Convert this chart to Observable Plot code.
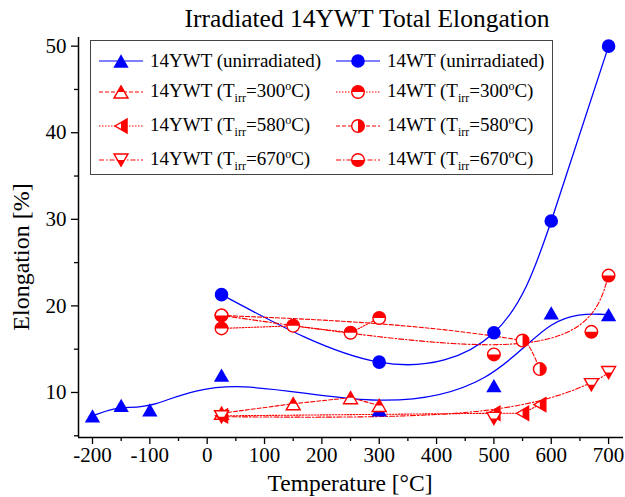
<!DOCTYPE html>
<html><head><meta charset="utf-8">
<script src="https://cdn.jsdelivr.net/npm/d3@7"></script>
<script src="https://cdn.jsdelivr.net/npm/@observablehq/plot@0.6"></script>
<style>
body{margin:0;background:#fff;}
#wrap{position:relative;width:625px;height:497px;font-family:"Liberation Serif","Times New Roman",Times,serif;color:#000;}
#wrap svg text{font-family:"Liberation Serif","Times New Roman",Times,serif !important;}
.ov{position:absolute;white-space:nowrap;line-height:1;}
#legend{position:absolute;left:90px;top:40px;width:461px;height:133px;border:1.5px solid #444;background:#fff;}
.le{position:absolute;display:flex;align-items:center;font-size:19px;height:24px;}
.le svg{margin-right:7px;}
sub{font-size:12px;vertical-align:-5px;}
sup{font-size:12px;vertical-align:7px;}
</style></head>
<body><div id="wrap"></div>
<script>
// ---------- data ----------
const ywtUnirrT = [-200, -150, -100, 25, 300, 500, 600, 700];
const ywtUnirr  = [7.3, 8.5, 8.0, 12.0, 8.0, 10.8, 19.2, 19.0];
const wtUnirrT  = [25, 300, 500, 600, 700];
const wtUnirr   = [21.3, 13.5, 16.9, 29.8, 50.0];
const ywt300T = [25, 150, 250, 300];
const ywt300  = [7.6, 8.7, 9.4, 8.5];
const ywt580T = [25, 500, 550, 580];
const ywt580  = [7.3, 7.6, 7.6, 8.6];
const ywt670T = [25, 500, 670, 700];
const ywt670  = [7.2, 7.0, 10.9, 12.3];
const wt300T = [25, 150, 250, 300];
const wt300  = [17.4, 17.7, 16.9, 18.6];
const wt580T = [25, 550, 580];
const wt580  = [18.9, 16.0, 12.7];
const wt670T = [25, 500, 670, 700];
const wt670  = [18.9, 14.4, 17.0, 23.5];
const xMajor = [-200, -100, 0, 100, 200, 300, 400, 500, 600, 700];
const xMinor = [-150, -50, 50, 150, 250, 350, 450, 550, 650];
const yMajor = [10, 20, 30, 40, 50];
const yMinor = [5, 15, 25, 35, 45];

const RED = "#ff0000", BLUE = "#0000ff";
const rows = (xs, ys) => xs.map((x, i) => ({x, y: ys[i]}));

// ---------- symbols ----------
const rr = s => Math.sqrt(s / Math.PI);
const triR = s => rr(s) * 1.3;
const triUp = {draw(c, s){const R = triR(s); c.moveTo(0,-0.75*R); c.lineTo(0.866*R,0.75*R); c.lineTo(-0.866*R,0.75*R); c.closePath();}};
const triUpTop = {draw(c, s){const R = triR(s); c.moveTo(0,-0.75*R); c.lineTo(0.433*R,0); c.lineTo(-0.433*R,0); c.closePath();}};
const triDown = {draw(c, s){const R = triR(s); c.moveTo(0,0.75*R); c.lineTo(0.866*R,-0.75*R); c.lineTo(-0.866*R,-0.75*R); c.closePath();}};
const triDownBot = {draw(c, s){const R = triR(s); c.moveTo(0,0.75*R); c.lineTo(0.433*R,0); c.lineTo(-0.433*R,0); c.closePath();}};
const triLeft = {draw(c, s){const R = triR(s); c.moveTo(-0.75*R,0); c.lineTo(0.75*R,-0.866*R); c.lineTo(0.75*R,0.866*R); c.closePath();}};
const triLeftRight = {draw(c, s){const R = triR(s); c.moveTo(0,-0.433*R); c.lineTo(0.75*R,-0.866*R); c.lineTo(0.75*R,0.866*R); c.lineTo(0,0.433*R); c.closePath();}};
const circ = {draw(c, s){const r = rr(s); c.moveTo(r,0); c.arc(0,0,r,0,2*Math.PI); c.closePath();}};
const circTop = {draw(c, s){const r = rr(s); c.moveTo(-r,0); c.arc(0,0,r,Math.PI,2*Math.PI); c.closePath();}};
const circBot = {draw(c, s){const r = rr(s); c.moveTo(r,0); c.arc(0,0,r,0,Math.PI); c.closePath();}};
const circRight = {draw(c, s){const r = rr(s); c.moveTo(0,-r); c.arc(0,0,r,-Math.PI/2,Math.PI/2); c.closePath();}};

const RB = 6.8, RC = 6.3, RT = 6.2;
function halfDots(data, full, half, r){
  return [
    Plot.dot(data, {x:"x", y:"y", symbol: full, r, fill:"white", stroke: RED, strokeWidth: 1.4}),
    Plot.dot(data, {x:"x", y:"y", symbol: half, r, fill: RED, stroke: "none"})
  ];
}

const series = [
  {data: rows(ywtUnirrT, ywtUnirr), color: BLUE, curve:"basis", dash:null, w:1.3},
  {data: rows(wtUnirrT, wtUnirr), color: BLUE, curve:"natural", dash:null, w:1.3},
  {data: rows(ywt300T, ywt300), color: RED, curve:"linear", dash:"4,2", w:1.1},
  {data: rows(ywt580T, ywt580), color: RED, curve:"linear", dash:"1.5,1.5", w:1.1},
  {data: rows(ywt670T, ywt670), color: RED, curve:"basis", dash:"5,2,1.5,2", w:1.1},
  {data: rows(wt300T, wt300), color: RED, curve:"linear", dash:"1.5,1.5", w:1.1},
  {data: rows(wt580T, wt580), color: RED, curve:"monotone-x", dash:"4,2", w:1.1},
  {data: rows(wt670T, wt670), color: RED, curve:"basis", dash:"5,2,1.5,2", w:1.1},
];

const chart = Plot.plot({
  width: 625, height: 497,
  marginLeft: 78, marginRight: 2, marginTop: 37, marginBottom: 60,
  x: {domain: [-224.4, 726]},
  y: {domain: [4.8, 51]},
  style: {fontFamily: '"Liberation Serif", "Times New Roman", serif', fontSize: "20px", color: "#000", background: "white"},
  marks: [
    Plot.axisX(xMinor, {tickSize: 4, tickFormat: () => "", label: null, strokeWidth: 1.3}),
    Plot.axisX(xMajor, {tickSize: 7, tickPadding: 3, tickFormat: d => String(d), label: null, fontSize: 21, strokeWidth: 1.3}),
    Plot.axisY(yMinor, {tickSize: 4, tickFormat: () => "", label: null, strokeWidth: 1.3}),
    Plot.axisY(yMajor, {tickSize: 7, tickPadding: 5, tickFormat: d => String(d), label: null, fontSize: 21, strokeWidth: 1.3}),
    Plot.ruleY([4.8], {stroke: "black", strokeWidth: 1.5}),
    Plot.ruleX([-224.4], {y1: 4.8, y2: 51, stroke: "black", strokeWidth: 1.5}),
    ...series.map(s => Plot.line(s.data, {x:"x", y:"y", curve: s.curve, stroke: s.color, strokeWidth: s.w, strokeDasharray: s.dash})),
    Plot.dot(rows(ywtUnirrT, ywtUnirr), {x:"x", y:"y", symbol: triUp, r: RB, fill: BLUE, stroke: "none"}),
    Plot.dot(rows(wtUnirrT, wtUnirr), {x:"x", y:"y", symbol: circ, r: RB, fill: BLUE, stroke: "none"}),
    ...halfDots(rows(ywt300T, ywt300), triUp, triUpTop, RT),
    ...halfDots(rows(ywt580T, ywt580), triLeft, triLeftRight, RT),
    ...halfDots(rows(ywt670T, ywt670), triDown, triDownBot, RT),
    ...halfDots(rows(wt300T, wt300), circ, circTop, RC),
    ...halfDots(rows(wt580T, wt580), circ, circRight, RC),
    ...halfDots(rows(wt670T, wt670), circ, circBot, RC),
  ]
});
const wrap = document.getElementById("wrap");
wrap.appendChild(chart);

function addText(html, css){
  const d = document.createElement("div"); d.className = "ov"; d.innerHTML = html; Object.assign(d.style, css); wrap.appendChild(d); return d;
}
addText("Irradiated 14YWT Total Elongation", {left:"167px", width:"400px", textAlign:"center", top:"6px", fontSize:"25.5px"});
addText("Temperature [°C]", {left:"200px", width:"300px", textAlign:"center", top:"472px", fontSize:"23.5px"});
addText("Elongation [%]", {left:"-64px", width:"170px", top:"245px", textAlign:"center", fontSize:"24px", transform:"rotate(-90deg)", transformOrigin:"center"});

// ---------- legend ----------
const legend = document.createElement("div"); legend.id = "legend"; wrap.appendChild(legend);
const sz = r => r*r*Math.PI;
function sample(color, dash, full, half, r, filled){
  const fp = d3.symbol(full, sz(r))();
  let s = `<svg width="44" height="22" viewBox="0 0 44 22"><line x1="0" y1="11" x2="44" y2="11" stroke="${color}" stroke-width="1.2" ${dash ? `stroke-dasharray="${dash}"` : ""}/>`;
  if (filled) s += `<path transform="translate(22,11)" d="${fp}" fill="${color}"/>`;
  else {
    s += `<path transform="translate(22,11)" d="${fp}" fill="white" stroke="${RED}" stroke-width="1.4"/>`;
    s += `<path transform="translate(22,11)" d="${d3.symbol(half, sz(r))()}" fill="${RED}"/>`;
  }
  return s + "</svg>";
}
const tl = t => `(T<sub>irr</sub>=${t}<sup>o</sup>C)`;
const entries = [
  [8, 8, sample(BLUE, null, triUp, null, RB, true), "14YWT (unirradiated)"],
  [245, 8, sample(BLUE, null, circ, null, RB, true), "14WT (unirradiated)"],
  [8, 39, sample(RED, "4,2", triUp, triUpTop, RT), "14YWT " + tl(300)],
  [245, 39, sample(RED, "1.5,1.5", circ, circTop, RC), "14WT " + tl(300)],
  [8, 73, sample(RED, "1.5,1.5", triLeft, triLeftRight, RT), "14YWT " + tl(580)],
  [245, 73, sample(RED, "4,2", circ, circRight, RC), "14WT " + tl(580)],
  [8, 107, sample(RED, "5,2,1.5,2", triDown, triDownBot, RT), "14YWT " + tl(670)],
  [245, 107, sample(RED, "5,2,1.5,2", circ, circBot, RC), "14WT " + tl(670)],
];
for (const [x, y, svg, label] of entries){
  const d = document.createElement("div"); d.className = "le";
  d.style.left = x + "px"; d.style.top = y + "px";
  d.innerHTML = svg + `<span>${label}</span>`;
  legend.appendChild(d);
}
</script></body></html>
